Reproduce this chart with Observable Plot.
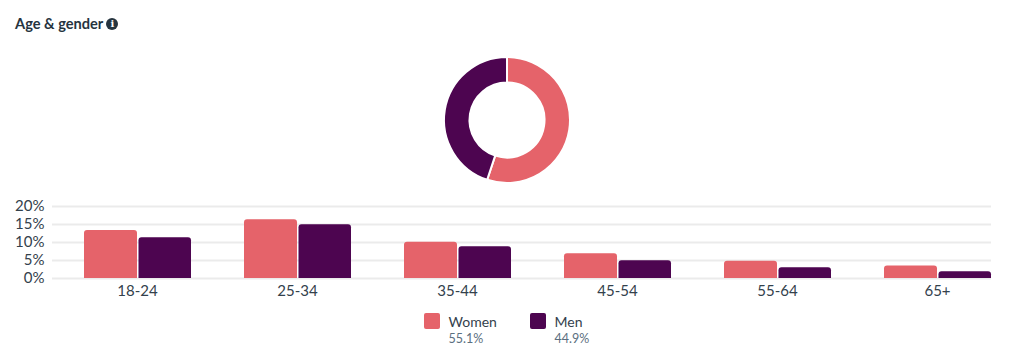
<!DOCTYPE html>
<html><head><meta charset="utf-8">
<script src="https://cdn.jsdelivr.net/npm/d3@7"></script>
<script src="https://cdn.jsdelivr.net/npm/@observablehq/plot@0.6"></script>
<style>
html,body{margin:0;padding:0;background:#fff;}
body{width:1014px;height:354px;position:relative;overflow:hidden;font-family:Lato,"Noto Sans",sans-serif;}
#title{position:absolute;left:15px;top:15px;font-size:14.6px;line-height:17px;font-weight:700;color:#26343f;white-space:nowrap;display:flex;align-items:center;}
#title i{display:inline-block;width:12px;height:12px;border-radius:50%;background:#26343f;color:#fff;font:700 10px/12px "DejaVu Serif",serif;text-align:center;margin-left:3px;font-style:normal;}
#chart{position:absolute;left:0;top:45px;}
.lg{position:absolute;top:313px;}
.lg b{position:absolute;left:0;top:0;width:16px;height:16px;border-radius:2px;}
.lg span{position:absolute;left:24.5px;top:0;font-size:14px;line-height:17px;color:#33414c;white-space:nowrap;}
.lg em{position:absolute;left:24.5px;top:17px;font-style:normal;font-size:12.5px;line-height:17px;color:#5b6f80;white-space:nowrap;}
</style></head>
<body>
<div id="title">Age &amp; gender<i>i</i></div>
<div id="chart"></div>
<div id="legend"></div>
<script>
const ageGroups = ["18-24","25-34","35-44","45-54","55-64","65+"];
const genders = ["Women","Men"];
const womenValues = [13.3,16.3,10.1,6.9,4.8,3.5];
const menValues = [11.3,14.9,8.8,4.9,3.0,1.9];
const shares = [55.1,44.9];
const colors = ["#e5636a","#4d0550"];
const yTicks = [0,5,10,15,20];

const women = ageGroups.map((age,i)=>({age,value:womenValues[i]}));
const men = ageGroups.map((age,i)=>({age,value:menValues[i]}));

const donut = () => {
  const g = d3.create("svg:g").attr("transform","translate(507,75)");
  const arcs = d3.pie().sort(null)(shares);
  const arc = d3.arc().innerRadius(37.5).outerRadius(63);
  g.selectAll("path").data(arcs).join("path")
    .attr("d",arc).attr("fill",(d,i)=>colors[i])
    .attr("stroke","#fff").attr("stroke-width",2);
  return g.node();
};

const chart = Plot.plot({
  width:1014,height:255,
  marginTop:161,marginBottom:22,marginLeft:52,marginRight:23,
  style:{fontFamily:"Lato, 'Noto Sans', sans-serif",fontSize:"15px",color:"#33414c",background:"transparent",overflow:"visible"},
  x:{domain:ageGroups,range:[57,1017],padding:0,label:null},
  y:{domain:[0,20],label:null},
  marks:[
    Plot.gridY(yTicks,{stroke:"#ebebeb",strokeWidth:2,strokeOpacity:1}),
    Plot.axisY(yTicks,{tickSize:0,tickPadding:8,tickFormat:d=>d+"%",label:null}),
    Plot.axisX({tickSize:0,tickPadding:7,label:null}),
    Plot.barY(women,{x:"age",y:"value",fill:colors[0],insetLeft:27,insetRight:80,ry1:3}),
    Plot.barY(men,{x:"age",y:"value",fill:colors[1],insetLeft:81.5,insetRight:26,ry1:3}),
    donut
  ]
});
document.getElementById("chart").appendChild(chart);

const legend = document.getElementById("legend");
const lefts = [424,530];
genders.forEach((g,i)=>{
  const el = document.createElement("div");
  el.className="lg"; el.style.left=lefts[i]+"px";
  el.innerHTML=`<b style="background:${colors[i]}"></b><span>${g}</span><em>${shares[i]}%</em>`;
  legend.appendChild(el);
});
</script>
</body></html>
